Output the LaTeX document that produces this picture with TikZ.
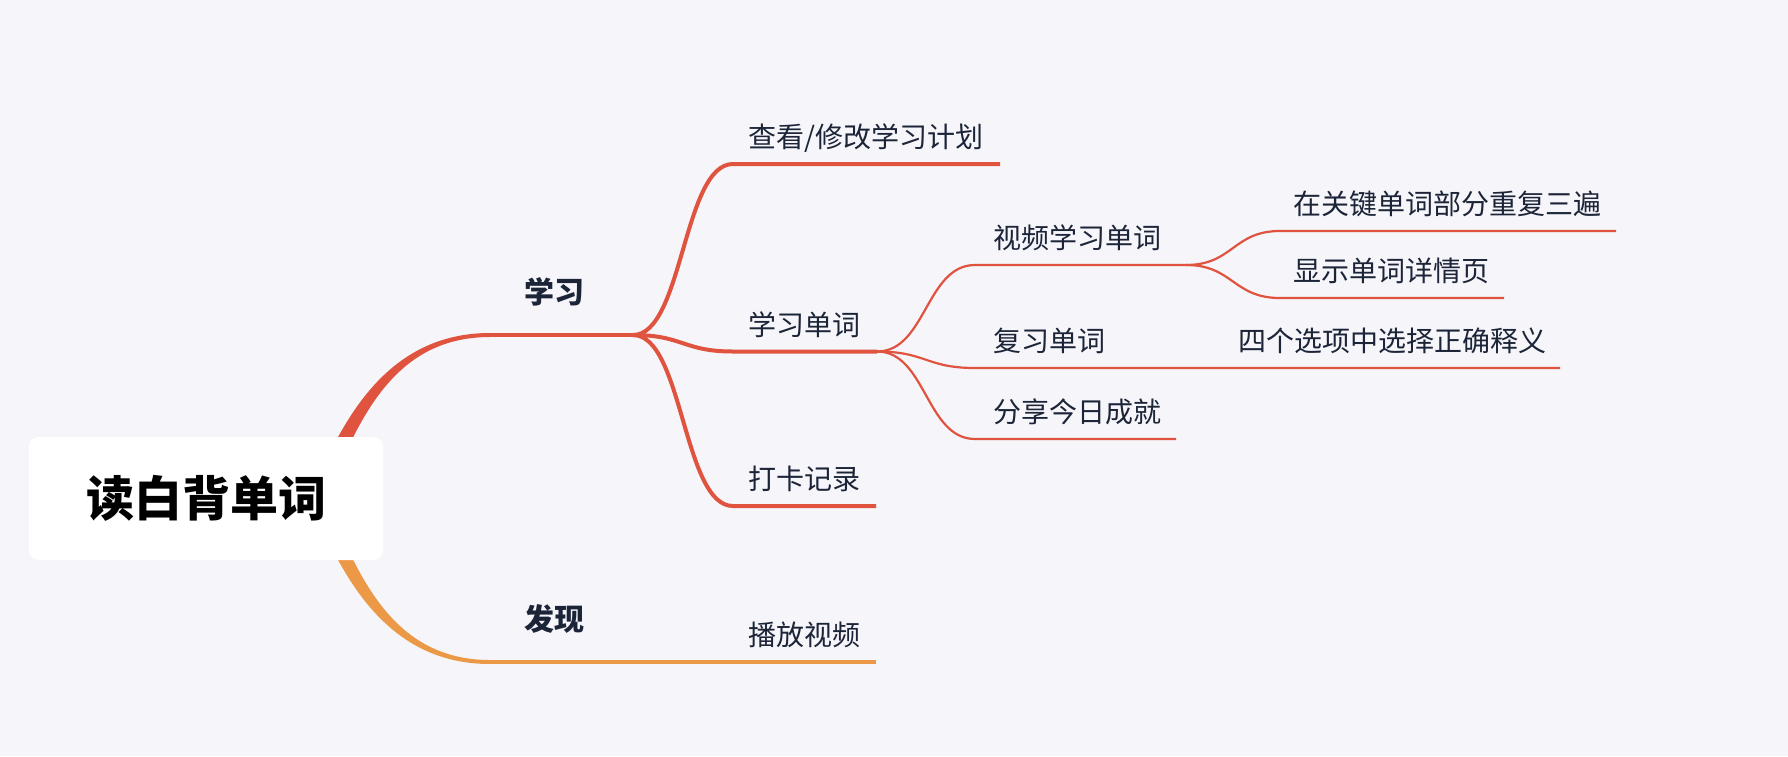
\documentclass[tikz,border=0pt]{standalone}
\usepackage{fontspec}
\setmainfont{Noto Sans CJK SC}
\definecolor{bg}{HTML}{F5F5FA}
\definecolor{mred}{HTML}{E0533F}
\definecolor{morange}{HTML}{EC9947}
\definecolor{ink}{HTML}{1C2438}
\begin{document}
\begin{tikzpicture}[x=1pt,y=-1pt,
  txt/.style={anchor=base west, inner sep=0pt, text=ink, font=\fontsize{28}{34}\selectfont},
  lbl/.style={anchor=base west, inner sep=0pt, text=ink, font=\fontsize{30}{36}\selectfont\bfseries},
  l2/.style={draw=mred, line width=4pt},
  l3/.style={draw=mred, line width=2.2pt},
  rootbox/.style={fill=white, rounded corners=10pt, minimum width=354.5pt, minimum height=123pt, inner sep=0pt,
    font=\fontsize{48}{56}\selectfont\bfseries, text=black, text height=36.5pt, text depth=0pt}]
\useasboundingbox (0,0) rectangle (1788,756);
\fill[bg] (0,0) rectangle (1788,756);

% coordinates
\coordinate (mainR) at (488,335);
\coordinate (b1) at (633,335);
\coordinate (t1s) at (733,164);   \coordinate (t1e) at (1000,164);
\coordinate (t2s) at (733,351.5); \coordinate (t2e) at (877,351.5);
\coordinate (t3s) at (733,506);   \coordinate (t3e) at (876,506);
\coordinate (u1s) at (975,265);   \coordinate (u1e) at (1186,265);
\coordinate (u2s) at (975,368);   \coordinate (u2e) at (1560,368);
\coordinate (u3s) at (975,439);   \coordinate (u3e) at (1176,439);
\coordinate (v1s) at (1280,231);  \coordinate (v1e) at (1616,231);
\coordinate (v2s) at (1280,298);  \coordinate (v2e) at (1504,298);
\coordinate (fxR) at (488,662);
\coordinate (fxE) at (876,662);

% main branches (tapered)
\fill[mred] (310,498) .. controls (342,418) and (388,333) .. (490,333) -- (490,337)
  .. controls (392,337) and (358,422) .. (326,498) -- cycle;
\draw[l2] (mainR) -- (b1);
\fill[morange] (310,499) .. controls (342,579) and (388,664) .. (490,664) -- (490,660)
  .. controls (392,660) and (358,575) .. (326,499) -- cycle;
\draw[l2, draw=morange] (fxR) -- (fxE);

% level 2
\draw[l2] (b1) .. controls +(50,0) and +(-50,0) .. (t1s) -- (t1e);
\draw[l2] (b1) .. controls +(50,0) and +(-50,0) .. (t2s) -- (t2e);
\draw[l2] (b1) .. controls +(50,0) and +(-50,0) .. (t3s) -- (t3e);

% level 3
\draw[l3] (t2e) .. controls +(49,0) and +(-49,0) .. (u1s) -- (u1e);
\draw[l3] (t2e) .. controls +(49,0) and +(-49,0) .. (u2s) -- (u2e);
\draw[l3] (t2e) .. controls +(49,0) and +(-49,0) .. (u3s) -- (u3e);

% level 4
\draw[l3] (u1e) .. controls +(47,0) and +(-47,0) .. (v1s) -- (v1e);
\draw[l3] (u1e) .. controls +(47,0) and +(-47,0) .. (v2s) -- (v2e);

% root
\node[rootbox] (root) at (206,498.5) {读白背单词};

% labels
\node[lbl] (xuexi) at (524,303.5) {学习};
\node[lbl] (faxian) at (524,630.5) {发现};

% texts
\node[txt] (n1) at (748,147.5) {查看/修改学习计划};
\node[txt] (n2) at (748,335) {学习单词};
\node[txt] (n3) at (748,489.5) {打卡记录};
\node[txt] (n4) at (748,645.5) {播放视频};
\node[txt] (m1) at (993,248.5) {视频学习单词};
\node[txt] (m2) at (993,351.5) {复习单词};
\node[txt] (m3) at (993,422.5) {分享今日成就};
\node[txt] (m4) at (1238,351.5) {四个选项中选择正确释义};
\node[txt] (k1) at (1293,214.5) {在关键单词部分重复三遍};
\node[txt] (k2) at (1293,281.5) {显示单词详情页};
\end{tikzpicture}
\end{document}
